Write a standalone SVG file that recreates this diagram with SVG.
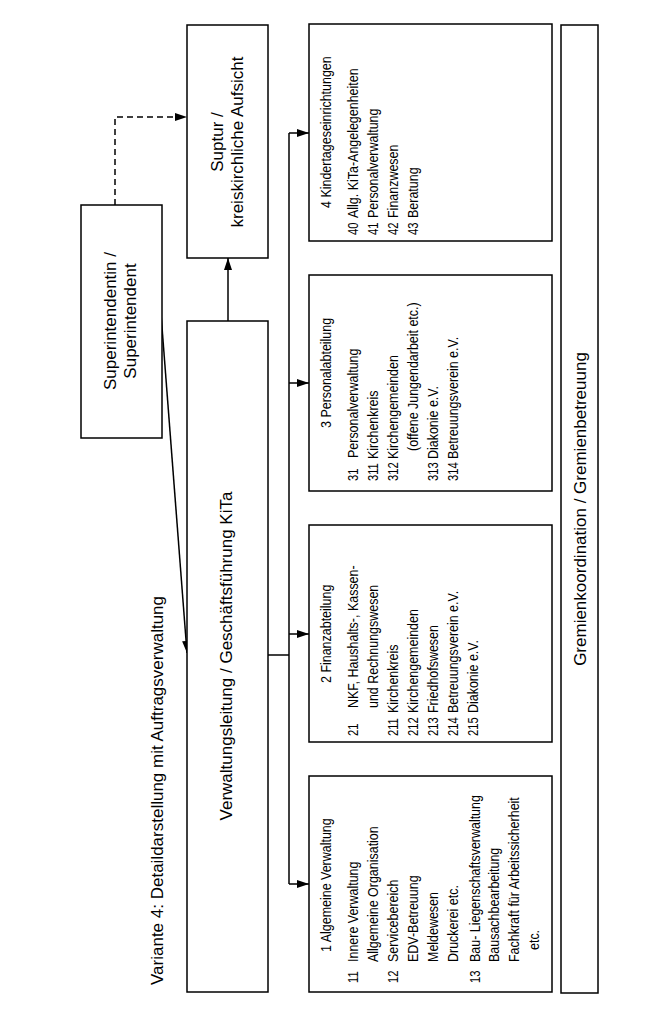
<svg xmlns="http://www.w3.org/2000/svg" width="667" height="1027" viewBox="0 0 667 1027">
<style>
.box{fill:#fff;stroke:#000;stroke-width:1.5}
.ln{fill:none;stroke:#000;stroke-width:1.5}
.big{font-family:"Liberation Sans",Arial,sans-serif;font-size:17px;fill:#000}
.t{font-family:"Liberation Sans",Arial,sans-serif;font-size:14px;fill:#000}
.mid{text-anchor:middle}
</style>
<defs>
<marker id="ah" markerUnits="userSpaceOnUse" markerWidth="12" markerHeight="10" refX="12" refY="5" orient="auto"><path d="M0,1 L12,5 L0,9 z" fill="#000"/></marker>
</defs>
<rect width="667" height="1027" fill="#fff"/>

<text class="big" transform="translate(163,985) rotate(-90)">Variante 4: Detaildarstellung mit Auftragsverwaltung</text>

<g id="connectors">
<polyline class="ln" points="115,205 115,117 187,117" stroke-dasharray="6,4" marker-end="url(#ah)"/>
<line class="ln" x1="228" y1="321" x2="228" y2="258" marker-end="url(#ah)"/>
<line class="ln" x1="161" y1="314" x2="187" y2="653" marker-end="url(#ah)"/>
<line class="ln" x1="268" y1="655" x2="289" y2="655"/>
<line class="ln" x1="289" y1="133" x2="289" y2="884"/>
<line class="ln" x1="289" y1="133" x2="309" y2="133" marker-end="url(#ah)"/>
<line class="ln" x1="289" y1="383" x2="309" y2="383" marker-end="url(#ah)"/>
<line class="ln" x1="289" y1="634" x2="309" y2="634" marker-end="url(#ah)"/>
<line class="ln" x1="289" y1="884" x2="309" y2="884" marker-end="url(#ah)"/>
</g>

<g id="superintendent">
<rect class="box" x="81" y="205" width="81" height="233"/>
<text class="big mid" transform="translate(116,321) rotate(-90)">Superintendentin /</text>
<text class="big mid" transform="translate(136,321) rotate(-90)">Superintendent</text>
</g>

<g id="suptur">
<rect class="box" x="187" y="25" width="81" height="233"/>
<text class="big mid" transform="translate(222.5,142) rotate(-90)">Suptur /</text>
<text class="big mid" transform="translate(242.5,142) rotate(-90)">kreiskirchliche Aufsicht</text>
</g>

<g id="verwaltungsleitung">
<rect class="box" x="187" y="321" width="81" height="671"/>
<text class="big mid" transform="translate(231.5,656) rotate(-90)">Verwaltungsleitung / Geschäftsführung KiTa</text>
</g>

<g id="abt4">
<rect class="box" x="309" y="24" width="243" height="217"/>
<text class="t" transform="translate(331,208) rotate(-90) scale(.89,1)">4 Kindertageseinrichtungen</text>
<text class="t" transform="translate(357.7,235) rotate(-90) scale(.8,1)">40</text>
<text class="t" transform="translate(357.7,218) rotate(-90) scale(.89,1)">Allg. KiTa-Angelegenheiten</text>
<text class="t" transform="translate(377.7,235) rotate(-90) scale(.8,1)">41</text>
<text class="t" transform="translate(377.7,218) rotate(-90) scale(.89,1)">Personalverwaltung</text>
<text class="t" transform="translate(397.7,235) rotate(-90) scale(.8,1)">42</text>
<text class="t" transform="translate(397.7,218) rotate(-90) scale(.89,1)">Finanzwesen</text>
<text class="t" transform="translate(417.7,235) rotate(-90) scale(.8,1)">43</text>
<text class="t" transform="translate(417.7,218) rotate(-90) scale(.89,1)">Beratung</text>
</g>

<g id="abt3">
<rect class="box" x="309" y="275" width="243" height="216"/>
<text class="t" transform="translate(331,428) rotate(-90) scale(.89,1)">3 Personalabteilung</text>
<text class="t" transform="translate(357.7,481) rotate(-90) scale(.8,1)">31</text>
<text class="t" transform="translate(357.7,458) rotate(-90) scale(.89,1)">Personalverwaltung</text>
<text class="t" transform="translate(377.7,481) rotate(-90) scale(.8,1)">311</text>
<text class="t" transform="translate(377.7,459) rotate(-90) scale(.89,1)">Kirchenkreis</text>
<text class="t" transform="translate(397.7,481) rotate(-90) scale(.8,1)">312</text>
<text class="t" transform="translate(397.7,459) rotate(-90) scale(.89,1)">Kirchengemeinden</text>
<text class="t" transform="translate(417.7,451) rotate(-90) scale(.89,1)">(offene Jungendarbeit etc.)</text>
<text class="t" transform="translate(437.7,481) rotate(-90) scale(.8,1)">313</text>
<text class="t" transform="translate(437.7,459) rotate(-90) scale(.89,1)">Diakonie e.V.</text>
<text class="t" transform="translate(457.7,481) rotate(-90) scale(.8,1)">314</text>
<text class="t" transform="translate(457.7,459) rotate(-90) scale(.89,1)">Betreuungsverein e.V.</text>
</g>

<g id="abt2">
<rect class="box" x="309" y="525" width="243" height="217"/>
<text class="t" transform="translate(331,683) rotate(-90) scale(.89,1)">2 Finanzabteilung</text>
<text class="t" transform="translate(357.7,736) rotate(-90) scale(.8,1)">21</text>
<text class="t" transform="translate(357.7,708) rotate(-90) scale(.89,1)">NKF, Haushalts-, Kassen-</text>
<text class="t" transform="translate(377.7,708) rotate(-90) scale(.89,1)">und Rechnungswesen</text>
<text class="t" transform="translate(397.7,736) rotate(-90) scale(.8,1)">211</text>
<text class="t" transform="translate(397.7,713) rotate(-90) scale(.89,1)">Kirchenkreis</text>
<text class="t" transform="translate(417.7,736) rotate(-90) scale(.8,1)">212</text>
<text class="t" transform="translate(417.7,713) rotate(-90) scale(.89,1)">Kirchengemeinden</text>
<text class="t" transform="translate(437.7,736) rotate(-90) scale(.8,1)">213</text>
<text class="t" transform="translate(437.7,713) rotate(-90) scale(.89,1)">Friedhofswesen</text>
<text class="t" transform="translate(457.7,736) rotate(-90) scale(.8,1)">214</text>
<text class="t" transform="translate(457.7,713) rotate(-90) scale(.89,1)">Betreuungsverein e.V.</text>
<text class="t" transform="translate(477.7,736) rotate(-90) scale(.8,1)">215</text>
<text class="t" transform="translate(477.7,713) rotate(-90) scale(.89,1)">Diakonie e.V.</text>
</g>

<g id="abt1">
<rect class="box" x="309" y="776" width="243" height="216"/>
<text class="t" transform="translate(331,952) rotate(-90) scale(.89,1)">1 Algemeine Verwaltung</text>
<text class="t" transform="translate(357.5,983) rotate(-90) scale(.8,1)">11</text>
<text class="t" transform="translate(357.5,962) rotate(-90) scale(.89,1)">Innere Verwaltung</text>
<text class="t" transform="translate(377.5,962) rotate(-90) scale(.89,1)">Allgemeine Organisation</text>
<text class="t" transform="translate(397.5,983) rotate(-90) scale(.8,1)">12</text>
<text class="t" transform="translate(397.5,962) rotate(-90) scale(.89,1)">Servicebereich</text>
<text class="t" transform="translate(417.5,962) rotate(-90) scale(.89,1)">EDV-Betreuung</text>
<text class="t" transform="translate(437.5,962) rotate(-90) scale(.89,1)">Meldewesen</text>
<text class="t" transform="translate(457.5,962) rotate(-90) scale(.89,1)">Druckerei etc.</text>
<text class="t" transform="translate(479.5,983) rotate(-90) scale(.8,1)">13</text>
<text class="t" transform="translate(479.5,962) rotate(-90) scale(.89,1)">Bau- Liegenschaftsverwaltung</text>
<text class="t" transform="translate(499,962) rotate(-90) scale(.89,1)">Bausachbearbeitung</text>
<text class="t" transform="translate(519,962) rotate(-90) scale(.89,1)">Fachkraft für Arbeitssicherheit</text>
<text class="t" transform="translate(539,950) rotate(-90) scale(.89,1)">etc.</text>
</g>

<g id="gremien">
<rect class="box" x="561" y="25" width="37" height="968"/>
<text class="big mid" transform="translate(585.5,509) rotate(-90)">Gremienkoordination / Gremienbetreuung</text>
</g>
</svg>
